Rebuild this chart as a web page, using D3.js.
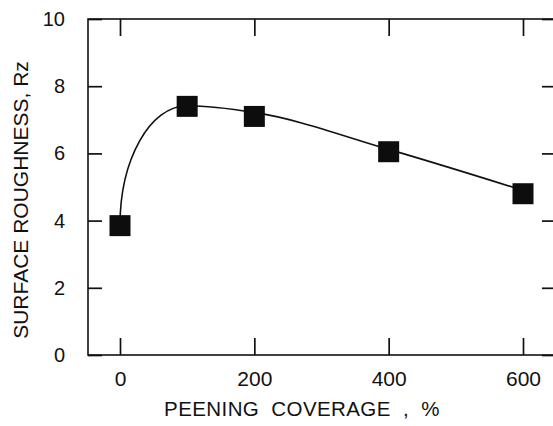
<!DOCTYPE html>
<html><head><meta charset="utf-8">
<script src="https://cdn.jsdelivr.net/npm/d3@7"></script>
<style>html,body{margin:0;padding:0;background:#fff;} svg{display:block}</style>
</head><body>
<script>
// ---- data ----
const coverage = [0, 100, 200, 400, 600];
const roughness = [3.85, 7.4, 7.1, 6.05, 4.8];
// fitted curve drawn in the figure (values read where the curve crosses each coverage)
const fitCoverage = [0, 100, 200, 400, 600];
const fitRoughness = [3.85, 7.42, 7.22, 6.12, 4.9];
const xTicks = [0, 200, 400, 600];
const yTicks = [0, 2, 4, 6, 8, 10];
const xTitle = "PEENING  COVERAGE  ,  %";
const yTitle = "SURFACE ROUGHNESS, Rz";

const W = 553, H = 426;
const FONT = "'Liberation Sans', Arial, sans-serif";
const frame = {left: 88, right: 556, top: 19, bottom: 355};

const x = d3.scaleLinear().domain([0, 600]).range([120, 523]);
const y = d3.scaleLinear().domain([0, 10]).range([frame.bottom, frame.top]);

const svg = d3.select("body").append("svg").attr("width", W).attr("height", H)
  .style("background", "#fff");

// axes
function styleAxis(g, fs) {
  g.select(".domain").remove();
  g.selectAll(".tick line").attr("stroke", "#111").attr("stroke-width", 1.7);
  g.selectAll(".tick text").attr("fill", "#111").attr("font-family", FONT).attr("font-size", fs);
}
svg.append("g").attr("transform", `translate(${frame.left},0)`)
  .call(d3.axisLeft(y).tickValues(yTicks).tickSize(-14).tickPadding(23).tickFormat(d3.format("d")))
  .call(g => styleAxis(g, 20));
svg.append("g").attr("transform", `translate(${frame.right},0)`)
  .call(d3.axisRight(y).tickValues(yTicks).tickSize(-14).tickFormat(""))
  .call(g => styleAxis(g, 20));
svg.append("g").attr("transform", `translate(0,${frame.bottom})`)
  .call(d3.axisBottom(x).tickValues(xTicks).tickSize(-17).tickPadding(16).tickFormat(d3.format("d")))
  .call(g => styleAxis(g, 21));
svg.append("g").attr("transform", `translate(0,${frame.top})`)
  .call(d3.axisTop(x).tickValues(xTicks).tickSize(-17).tickFormat(""))
  .call(g => styleAxis(g, 21));

// frame
svg.append("rect").attr("x", frame.left).attr("y", frame.top)
  .attr("width", frame.right - frame.left).attr("height", frame.bottom - frame.top)
  .attr("fill", "none").attr("stroke", "#111").attr("stroke-width", 1.6);

// fitted curve: vertical start, then monotone Hermite segments
function fitPath(px, py) {
  const n = px.length, s = [], m = new Array(n).fill(0);
  for (let i = 0; i < n - 1; i++) s[i] = (py[i + 1] - py[i]) / (px[i + 1] - px[i]);
  for (let i = 1; i < n - 1; i++) {
    const h0 = px[i] - px[i - 1], h1 = px[i + 1] - px[i];
    const p = (s[i - 1] * h1 + s[i] * h0) / (h0 + h1);
    m[i] = (Math.sign(s[i - 1]) + Math.sign(s[i])) *
      Math.min(Math.abs(s[i - 1]), Math.abs(s[i]), 0.5 * Math.abs(p)) || 0;
  }
  m[n - 1] = (3 * s[n - 2] - m[n - 2]) / 2;
  const p = d3.path();
  p.moveTo(px[0], py[0]);
  const k = 0.5523;
  let dx = px[1] - px[0], dy = py[1] - py[0];
  p.bezierCurveTo(px[0], py[0] + k * dy, px[1] - k * dx, py[1] - k * dx * m[1], px[1], py[1]);
  for (let i = 1; i < n - 1; i++) {
    dx = px[i + 1] - px[i];
    p.bezierCurveTo(px[i] + dx / 3, py[i] + m[i] * dx / 3,
      px[i + 1] - dx / 3, py[i + 1] - m[i + 1] * dx / 3, px[i + 1], py[i + 1]);
  }
  return p.toString();
}
svg.append("path")
  .attr("d", fitPath(fitCoverage.map(x), fitRoughness.map(y)))
  .attr("fill", "none").attr("stroke", "#111").attr("stroke-width", 1.6);

// markers
const S = 21;
svg.append("g").selectAll("rect").data(coverage).join("rect")
  .attr("x", (d) => x(d) - S / 2)
  .attr("y", (d, i) => y(roughness[i]) - S / 2)
  .attr("width", S).attr("height", S).attr("fill", "#0d0d0d");

// titles
svg.append("text").attr("x", 302).attr("y", 416)
  .attr("text-anchor", "middle").attr("font-family", FONT).attr("font-size", 20.5)
  .attr("letter-spacing", 0.4).attr("fill", "#111").style("white-space", "pre")
  .text(xTitle);
svg.append("text").attr("transform", "translate(28,200) rotate(-90)")
  .attr("text-anchor", "middle").attr("font-family", FONT).attr("font-size", 21)
  .attr("fill", "#111").text(yTitle);
</script>
</body></html>
